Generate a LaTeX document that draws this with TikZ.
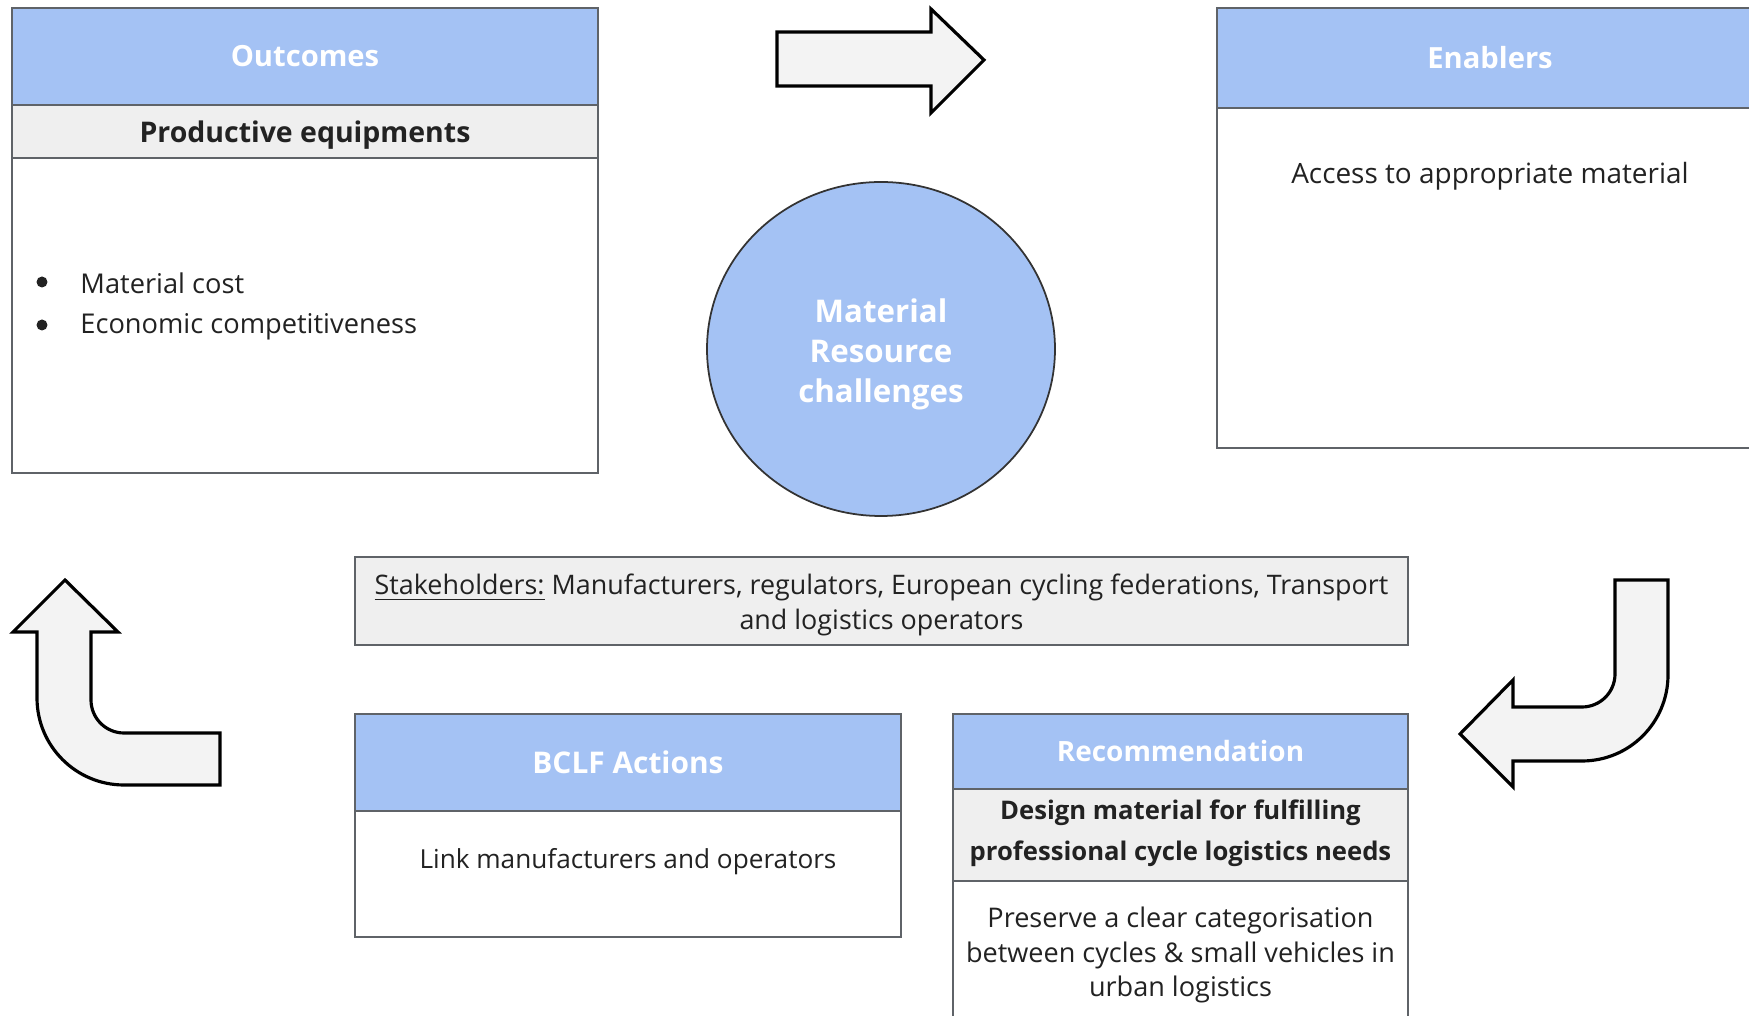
\documentclass[tikz,border=0pt]{standalone}
\usepackage{fontspec}
\setmainfont{Open Sans}
\usepackage{xcolor}
\definecolor{hdblue}{HTML}{A4C2F4}
\definecolor{bandgray}{HTML}{EFEFEF}
\definecolor{arrowgray}{HTML}{F3F3F3}
\definecolor{edgegray}{HTML}{5F6368}
\definecolor{txtdark}{HTML}{222222}
\usepackage{tikz}
\usetikzlibrary{positioning, shapes.geometric}

\begin{document}
\begin{tikzpicture}[
  boxpart/.style={draw=edgegray, line width=0.45pt, outer sep=0pt, inner sep=0pt},
  headpart/.style={boxpart, fill=hdblue, text=white, font=\fontsize{8.3}{10}\selectfont\bfseries},
  bandpart/.style={boxpart, fill=bandgray, text=txtdark, align=center},
  bodypart/.style={boxpart, fill=white},
  bodytext/.style={text=txtdark, font=\fontsize{7.6}{9.7}\selectfont, align=center},
  blockarrow/.style={draw=black, fill=arrowgray, line width=0.9pt, line join=miter}
]
  \useasboundingbox (0,0) rectangle (17.49,10.16);

  % --- Outcomes ---
  \node[headpart, minimum width=5.86cm, minimum height=0.97cm, anchor=north west] (outHead) at (0.12,10.08) {Outcomes};
  \node[bandpart, minimum width=5.86cm, minimum height=0.53cm, below=0pt of outHead] (outBand) {};
  \node[text=txtdark, font=\fontsize{8.1}{10}\selectfont\bfseries] (outBandText) at (3.05,8.81) {Productive equipments};
  \node[bodypart, minimum width=5.86cm, minimum height=3.15cm, below=0pt of outBand] (outBody) {};
  \fill[txtdark] (0.42,7.34) circle (0.055);
  \fill[txtdark] (0.42,6.91) circle (0.055);
  \node[bodytext, font=\fontsize{7.75}{9.7}\selectfont, anchor=west] (outItemA) at (0.68,7.33) {Material cost};
  \node[bodytext, font=\fontsize{7.75}{9.7}\selectfont, anchor=west] (outItemB) at (0.68,6.89) {Economic competitiveness};

  % --- Enablers (runs off the right edge) ---
  \node[headpart, minimum width=5.46cm, minimum height=1.00cm, anchor=north west] (enbHead) at (12.17,10.08) {Enablers};
  \node[bodypart, minimum width=5.46cm, minimum height=3.40cm, below=0pt of enbHead] (enbBody) {};
  \node[bodytext, font=\fontsize{7.95}{9.7}\selectfont] (enbText) at (14.90,8.40) {Access to appropriate material};

  % --- Centre ---
  \node[ellipse, draw=black!80, line width=0.5pt, fill=hdblue,
        minimum width=3.48cm, minimum height=3.34cm] (hub) at (8.81,6.67) {};
  \node[text=white, align=center, font=\fontsize{8.9}{11.4}\selectfont\bfseries] (hubText) at (8.81,6.62)
        {Material\\Resource\\challenges};

  % --- Stakeholders ---
  \node[bandpart, minimum width=10.53cm, minimum height=0.88cm, anchor=north west] (stake) at (3.55,4.59) {};
  \node[text=txtdark, align=center, font=\fontsize{7.65}{10.2}\selectfont] (stakeText) at (8.815,4.11)
        {\underline{Stakeholders:} Manufacturers, regulators, European cycling federations, Transport\\and logistics operators};

  % --- BCLF Actions ---
  \node[headpart, minimum width=5.46cm, minimum height=0.97cm, anchor=north west,
        font=\fontsize{8.5}{10}\selectfont\bfseries] (actHead) at (3.55,3.02) {BCLF Actions};
  \node[bodypart, minimum width=5.46cm, minimum height=1.26cm, below=0pt of actHead] (actBody) {};
  \node[bodytext, font=\fontsize{7.45}{9.7}\selectfont] (actText) at (6.28,1.54) {Link manufacturers and operators};

  % --- Recommendation (runs off the bottom edge) ---
  \node[headpart, minimum width=4.55cm, minimum height=0.75cm, anchor=north west,
        font=\fontsize{7.95}{10}\selectfont\bfseries] (recHead) at (9.53,3.02) {Recommendation};
  \node[bandpart, minimum width=4.55cm, minimum height=0.92cm, below=0pt of recHead] (recBand) {};
  \node[text=txtdark, align=center, font=\fontsize{7.3}{11.6}\selectfont\bfseries] (recBandText) at (11.805,1.83)
        {Design material for fulfilling\\professional cycle logistics needs};
  \node[bodypart, minimum width=4.55cm, minimum height=1.60cm, below=0pt of recBand] (recBody) {};
  \node[bodytext, font=\fontsize{7.7}{9.7}\selectfont] (recText) at (11.805,0.61)
        {Preserve a clear categorisation\\between cycles \& small vehicles in\\urban logistics};

  % --- Block arrows ---
  % top: pointing right
  \draw[blockarrow] (7.77,9.84) -- (9.31,9.84) -- (9.31,10.07) -- (9.84,9.56)
    -- (9.31,9.03) -- (9.31,9.30) -- (7.77,9.30) -- cycle;
  % right: down then left
  \draw[blockarrow] (16.15,4.36) -- (16.68,4.36) -- (16.68,3.41) arc (0:-90:0.86)
    -- (15.13,2.55) -- (15.13,2.29) -- (14.60,2.82) -- (15.13,3.36) -- (15.13,3.09)
    -- (15.82,3.09) arc (270:360:0.33) -- cycle;
  % left: right then up
  \draw[blockarrow] (0.65,4.36) -- (1.18,3.84) -- (0.91,3.84) -- (0.91,3.16) arc (180:270:0.33)
    -- (2.20,2.83) -- (2.20,2.31) -- (1.24,2.31) arc (270:180:0.87)
    -- (0.37,3.84) -- (0.13,3.84) -- cycle;
\end{tikzpicture}
\end{document}
